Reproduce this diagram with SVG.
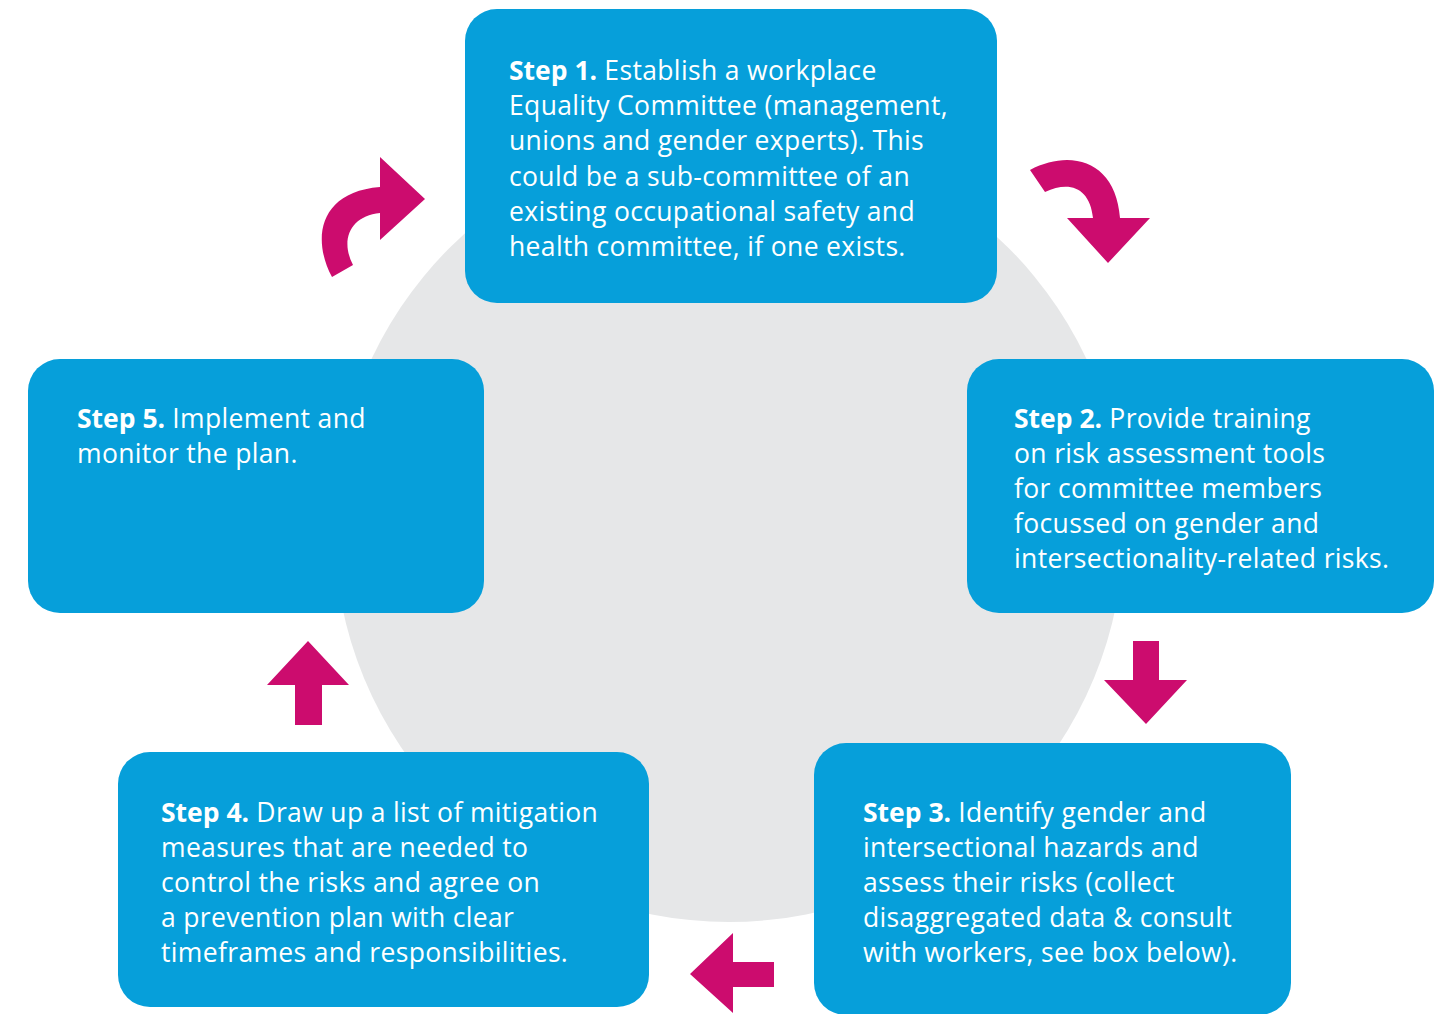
<svg xmlns="http://www.w3.org/2000/svg" width="1445" height="1014" viewBox="0 0 1445 1014">
<style>
.box{fill:#069fda}
.arr{fill:#cc0c6e}
text{font-family:"Open Sans","Liberation Sans",sans-serif;font-size:26.5px;letter-spacing:0.35px;fill:#ffffff}
.b{font-weight:700;letter-spacing:0}
</style>
<rect width="1445" height="1014" fill="#ffffff"/>
<circle cx="729" cy="527" r="395" fill="#e6e7e8"/>
<g id="connectors">
<path class="arr" d="M332,277 C312,240 318,192 380,187 L380,157 L425,199 L380,240 L380,213 C350,216 340,240 353,265 Z"/>
<path class="arr" d="M1030,170 C1072,148 1116,162 1120,218 L1150,218 L1108,263 L1067,218 L1093,218 C1090,188 1070,180 1045,192 Z"/>
<path class="arr" d="M1133,641 L1159,641 L1159,680 L1187,680 L1146,724 L1104,680 L1133,680 Z"/>
<path class="arr" d="M774,962 L774,987 L733,987 L733,1013 L690,974 L733,933 L733,962 Z"/>
<path class="arr" d="M295,725 L322,725 L322,685 L349,685 L308,641 L267,685 L295,685 Z"/>
</g>
<g id="step1">
<rect class="box" x="465" y="9" width="532" height="294" rx="32"/>
<text x="509" y="80"><tspan class="b">Step 1.</tspan> Establish a workplace</text>
<text x="509" y="115">Equality Committee (management,</text>
<text x="509" y="150">unions and gender experts). This</text>
<text x="509" y="186">could be a sub-committee of an</text>
<text x="509" y="221">existing occupational safety and</text>
<text x="509" y="256">health committee, if one exists.</text>
</g>
<g id="step2">
<rect class="box" x="967" y="359" width="467" height="254" rx="32"/>
<text x="1014" y="428"><tspan class="b">Step 2.</tspan> Provide training</text>
<text x="1014" y="463">on risk assessment tools</text>
<text x="1014" y="498">for committee members</text>
<text x="1014" y="533">focussed on gender and</text>
<text x="1014" y="568">intersectionality-related risks.</text>
</g>
<g id="step3">
<rect class="box" x="814" y="743" width="477" height="272" rx="32"/>
<text x="863" y="822"><tspan class="b">Step 3.</tspan> Identify gender and</text>
<text x="863" y="857">intersectional hazards and</text>
<text x="863" y="892">assess their risks (collect</text>
<text x="863" y="927">disaggregated data &amp; consult</text>
<text x="863" y="962">with workers, see box below).</text>
</g>
<g id="step4">
<rect class="box" x="118" y="752" width="531" height="255" rx="32"/>
<text x="161" y="822"><tspan class="b">Step 4.</tspan> Draw up a list of mitigation</text>
<text x="161" y="857">measures that are needed to</text>
<text x="161" y="892">control the risks and agree on</text>
<text x="161" y="927">a prevention plan with clear</text>
<text x="161" y="962">timeframes and responsibilities.</text>
</g>
<g id="step5">
<rect class="box" x="28" y="359" width="456" height="254" rx="32"/>
<text x="77" y="428"><tspan class="b">Step 5.</tspan> Implement and</text>
<text x="77" y="463">monitor the plan.</text>
</g>
</svg>
